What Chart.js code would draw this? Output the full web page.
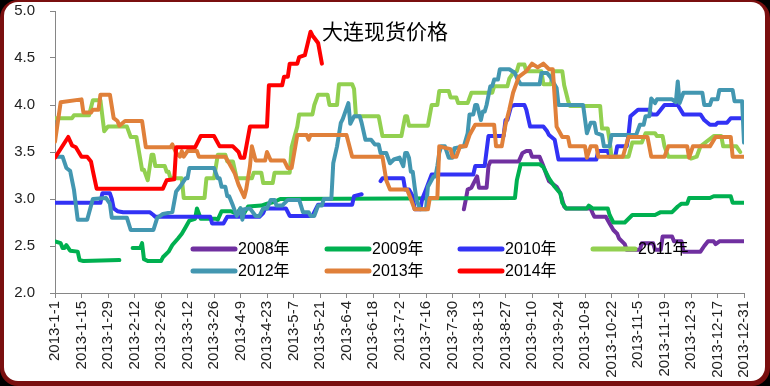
<!DOCTYPE html>
<html><head><meta charset="utf-8">
<script src="https://cdn.jsdelivr.net/npm/chart.js@4.4.1/dist/chart.umd.min.js"></script>
<style>
html,body{margin:0;padding:0;background:#000;overflow:hidden;}
canvas{display:block;}
</style></head><body>
<canvas id="c" width="770" height="386"></canvas>
<script>
// ---- data (x = day of 2013, 0 = 2013-1-1) ----
const tickLabels = ['2013-1-1','2013-1-15','2013-1-29','2013-2-12','2013-2-26','2013-3-12','2013-3-26','2013-4-9','2013-4-23','2013-5-7','2013-5-21','2013-6-4','2013-6-18','2013-7-2','2013-7-16','2013-7-30','2013-8-13','2013-8-27','2013-9-10','2013-9-24','2013-10-8','2013-10-22','2013-11-5','2013-11-19','2013-12-3','2013-12-17','2013-12-31'];
const seriesNames = ['2008年','2009年','2010年','2011年','2012年','2013年','2014年'];

const days2008 = [216,217,218,220,222,223,224,228,229,230,245,247,249,251,252,256,258,260,261,265,267,268,269,270,283,284,285,291,293,295,297,298,301,302,309,310,316,317,320,321,326,327,331,332,341,343,345,348,349,351,364];
const vals2008 = [2.89,2.99,3.10,3.12,3.20,3.24,3.12,3.12,3.35,3.40,3.40,3.49,3.51,3.51,3.45,3.45,3.35,3.24,3.19,3.13,3.06,2.99,2.92,2.90,2.90,2.85,2.81,2.81,2.74,2.67,2.63,2.58,2.52,2.46,2.46,2.53,2.53,2.46,2.46,2.60,2.60,2.55,2.55,2.44,2.44,2.50,2.55,2.55,2.52,2.55,2.55];

const days2009 = [0,3,4,5,6,8,12,13,15,34,37,41,45,46,47,49,56,57,60,62,65,67,69,71,74,75,77,85,86,88,93,96,98,100,102,109,112,116,119,243,244,246,256,258,260,261,264,267,268,270,281,282,284,292,293,295,301,303,305,317,320,326,329,331,334,335,346,348,357,358,364];
const vals2009 = [2.55,2.53,2.48,2.48,2.51,2.45,2.44,2.35,2.34,2.35,null,2.48,2.48,2.53,2.36,2.34,2.34,2.38,2.44,2.51,2.58,2.63,2.70,2.77,2.79,2.90,2.79,2.79,2.78,2.87,2.87,2.84,2.90,2.85,2.92,2.93,2.95,2.97,3.00,3.01,3.20,3.37,3.37,3.34,3.26,3.22,3.13,3.06,2.96,2.90,2.90,2.93,2.90,2.90,2.83,2.75,2.75,2.79,2.83,2.83,2.86,2.86,2.92,2.95,2.95,3.01,3.01,3.03,3.03,2.96,2.96];

const days2010 = [0,24,25,29,30,31,33,36,50,52,53,82,83,89,91,108,110,111,122,124,136,138,139,157,158,162,167,172,173,184,185,187,189,190,193,194,196,199,221,222,227,229,237,238,239,241,243,248,249,251,258,260,261,264,266,286,287,292,293,296,297,302,303,304,308,314,315,318,320,322,329,332,341,343,346,349,350,355,357,364];
const vals2010 = [2.96,2.96,3.06,3.06,3.00,2.90,2.87,2.86,2.86,2.83,2.81,2.81,2.74,2.74,2.81,2.81,2.85,2.90,2.90,2.82,2.82,2.90,2.94,2.94,3.03,3.05,null,3.19,3.22,3.22,3.10,3.10,3.03,2.89,2.89,3.00,3.10,3.26,3.26,3.35,3.35,3.67,3.67,3.84,3.84,3.99,4.00,4.00,3.95,3.77,3.77,3.72,3.68,3.63,3.42,3.42,3.51,3.51,3.45,3.45,3.56,3.56,3.68,3.88,3.95,3.95,3.90,3.90,3.95,4.00,4.00,3.90,3.90,3.84,3.79,3.79,3.81,3.81,3.86,3.86];

const days2011 = [0,9,10,18,20,24,26,28,38,40,43,45,46,47,49,51,52,53,58,59,60,61,67,68,79,80,84,86,90,91,94,96,104,105,109,110,115,116,124,125,128,129,136,137,139,144,145,149,150,157,158,159,171,173,183,185,186,187,197,199,202,203,208,209,212,213,218,220,231,232,239,240,242,244,245,248,249,257,258,262,263,268,269,271,272,288,289,292,293,294,303,305,310,312,317,318,321,322,324,335,336,339,341,348,352,353,360,362];
const vals2011 = [3.86,3.86,3.89,3.89,4.05,4.05,3.72,3.77,3.77,3.66,3.66,3.43,3.31,3.31,3.20,3.47,3.47,3.35,3.35,3.29,3.29,3.22,3.22,3.01,3.01,3.22,3.22,3.47,3.47,3.40,3.40,3.22,3.22,3.28,3.28,3.17,3.17,3.28,3.28,3.55,3.77,3.90,3.90,4.00,4.11,4.11,4.00,4.00,4.22,4.22,4.17,3.88,3.88,3.67,3.67,3.88,3.88,3.78,3.78,4.00,4.00,4.15,4.15,4.08,4.08,4.02,4.02,4.13,4.13,4.20,4.20,4.28,4.34,4.36,4.43,4.43,4.36,4.36,4.22,4.22,4.36,4.36,4.21,4.05,3.99,3.99,3.75,3.75,3.62,3.45,3.45,3.60,3.60,3.70,3.70,3.67,3.67,3.56,3.45,3.45,3.43,3.45,3.56,3.67,3.67,3.56,3.56,3.50];

const days2012 = [0,4,6,8,10,12,17,20,27,29,30,38,40,52,54,57,62,64,66,69,70,71,84,86,87,88,90,91,92,94,96,98,99,100,103,106,108,110,112,114,116,117,120,123,129,131,134,135,137,139,141,142,146,147,149,151,152,155,156,158,161,162,164,167,169,171,172,175,177,179,182,184,185,186,187,188,189,190,191,193,196,197,200,201,202,203,204,206,208,210,211,216,218,219,221,222,223,225,226,227,228,230,231,232,234,235,240,243,244,246,256,257,260,262,263,265,266,279,281,283,285,286,289,290,293,294,307,309,311,312,314,315,317,318,326,328,329,330,332,342,343,346,347,350,351,358,359,363,364];
const vals2012 = [3.45,3.45,3.33,3.30,3.10,2.78,2.78,3.00,3.01,2.95,2.80,2.80,2.67,2.67,2.80,2.84,2.86,3.08,3.13,3.22,3.22,3.33,3.33,3.22,3.22,3.13,3.13,3.03,3.03,2.93,2.82,2.90,2.78,2.89,2.90,2.82,2.82,2.90,2.90,2.99,2.99,2.93,2.93,2.99,2.99,2.86,2.86,2.82,2.82,2.93,2.93,3.00,3.00,3.38,3.56,3.81,3.85,4.02,3.80,3.88,3.88,3.81,3.63,3.63,3.58,3.58,3.49,3.49,3.38,3.42,3.44,3.35,3.49,3.49,3.44,3.29,3.29,3.13,2.99,2.89,2.89,3.13,3.24,3.24,3.35,3.49,3.56,3.56,3.44,3.44,3.54,3.56,3.70,3.90,3.90,4.00,4.00,3.84,3.93,3.93,4.00,4.20,4.20,4.27,4.27,4.38,4.38,4.34,4.29,4.22,4.22,4.34,4.34,4.29,4.25,4.18,4.00,4.00,3.70,3.81,3.81,3.70,3.68,3.56,3.56,3.68,3.68,3.79,3.79,3.88,3.88,4.07,4.02,4.06,4.06,4.03,4.25,4.02,4.13,4.13,4.00,4.00,4.06,4.06,4.16,4.16,4.04,4.04,3.60];

const days2013 = [0,3,14,15,19,20,23,24,29,31,33,34,37,46,48,61,62,64,66,67,68,70,75,76,84,90,92,95,97,100,101,103,104,106,111,112,114,121,123,125,128,133,134,135,154,157,173,175,177,186,188,190,197,198,202,203,209,210,212,214,217,219,222,232,233,236,238,240,242,245,249,252,255,258,261,263,265,268,271,272,280,281,283,286,287,300,303,313,315,322,324,334,335,337,346,349,357,358,364];
const vals2013 = [3.61,4.03,4.06,3.92,3.92,3.95,3.95,4.11,4.11,3.86,3.83,3.78,3.83,3.83,3.55,3.55,3.58,3.49,3.45,3.51,3.45,3.51,3.51,3.45,3.45,3.45,3.38,3.27,3.15,3.02,3.10,3.35,3.56,3.41,3.41,3.50,3.41,3.41,3.33,3.33,3.68,3.68,3.63,3.68,3.68,3.45,3.45,3.20,3.10,3.10,3.00,2.89,2.89,3.01,3.01,3.56,3.53,3.45,3.45,3.56,3.56,3.68,3.79,3.79,3.56,3.56,3.79,3.95,4.13,4.30,4.36,4.44,4.40,4.44,4.38,4.38,3.77,3.66,3.66,3.56,3.56,3.44,3.56,3.56,3.45,3.45,3.66,3.66,3.45,3.45,3.56,3.56,3.44,3.56,3.56,3.66,3.66,3.45,3.45];

const days2014 = [0,7,9,11,14,17,19,20,22,57,59,63,64,74,77,84,87,94,97,98,100,103,112,113,120,121,123,124,128,129,132,135,136,139,141];
const vals2014 = [3.44,3.66,3.57,3.55,3.45,3.45,3.40,3.30,3.11,3.11,3.20,3.21,3.55,3.55,3.67,3.67,3.56,3.56,3.50,3.44,3.44,3.77,3.77,4.21,4.21,4.30,4.30,4.44,4.44,4.51,4.53,4.78,4.74,4.66,4.44];

const seriesDays = [days2008,days2009,days2010,days2011,days2012,days2013,days2014];
const seriesVals = [vals2008,vals2009,vals2010,vals2011,vals2012,vals2013,vals2014];
const seriesColors = ['#7030A0','#00B050','#3232F5','#92D050','#4397B1','#E0803A','#FF0000'];

const TICK_FONT = {family:'"Liberation Sans", Arial, sans-serif', size:15};

const bgPlugin = {
  id:'bg',
  beforeDraw(chart){
    const ctx = chart.ctx;
    ctx.save();
    ctx.fillStyle = '#000';
    ctx.fillRect(0,0,770,386);
    ctx.fillStyle = '#7A0F0F';
    ctx.beginPath(); ctx.roundRect(0,0,770,386,18); ctx.fill();
    ctx.fillStyle = '#FFFFFF';
    ctx.beginPath(); ctx.roundRect(4,2,761,379,14); ctx.fill();
    ctx.restore();
  }
};

const overlayPlugin = {
  id:'overlay',
  afterDatasetsDraw(chart){
    const ctx = chart.ctx;
    ctx.save();
    ctx.fillStyle = '#000';
    ctx.font = '21px "Noto Sans CJK SC", sans-serif';
    ctx.textAlign = 'center';
    ctx.textBaseline = 'middle';
    ctx.fillText('大连现货价格', 385, 31);
    const cols = [193, 327, 460, 593];
    const rows = [249, 271];
    ctx.font = '16px "Liberation Sans", "Noto Sans CJK SC", sans-serif';
    ctx.textAlign = 'left';
    seriesNames.forEach((name, i) => {
      const cx = cols[i % 4], cy = rows[Math.floor(i / 4)];
      ctx.strokeStyle = seriesColors[i];
      ctx.lineWidth = 5;
      ctx.lineCap = 'round';
      ctx.beginPath(); ctx.moveTo(cx, cy); ctx.lineTo(cx + 42, cy); ctx.stroke();
      ctx.fillStyle = '#000';
      ctx.fillText(name, cx + 45, cy + 1);
    });
    ctx.restore();
  }
};

const datasets = seriesNames.map((name, i) => ({
  label: name,
  data: seriesDays[i].map((d, j) => ({x: d, y: seriesVals[i][j]})),
  borderColor: seriesColors[i],
  backgroundColor: seriesColors[i],
  borderWidth: 4,
  pointRadius: 0,
  tension: 0,
  spanGaps: false,
  borderJoinStyle: 'round',
  borderCapStyle: 'round',
  order: 7 - i
}));

new Chart(document.getElementById('c'), {
  type: 'line',
  data: { datasets },
  options: {
    responsive: false,
    animation: false,
    events: [],
    layout: { padding: { top: 11, right: 26, left: 0, bottom: 0 } },
    plugins: { legend: { display: false }, tooltip: { enabled: false }, title: { display: false } },
    scales: {
      x: {
        type: 'linear', min: 0, max: 364,
        afterFit: s => { s.height = 93; },
        ticks: {
          stepSize: 14, autoSkip: false, minRotation: 90, maxRotation: 90, padding: 3,
          font: TICK_FONT, color: '#222',
          callback: v => tickLabels[Math.round(v / 14)]
        },
        grid: { drawOnChartArea: false, drawTicks: true, tickLength: 5, color: '#868686' },
        border: { display: true, color: '#868686', width: 1 }
      },
      y: {
        min: 2, max: 5,
        afterFit: s => { s.width = 55; s.paddingTop = 0; s.paddingBottom = 0; },
        ticks: { stepSize: 0.5, padding: 15, font: TICK_FONT, color: '#222', callback: v => v.toFixed(1) },
        grid: { drawOnChartArea: false, drawTicks: true, tickLength: 5, color: '#868686' },
        border: { display: true, color: '#868686', width: 1 }
      }
    }
  },
  plugins: [bgPlugin, overlayPlugin]
});
</script>
</body></html>
